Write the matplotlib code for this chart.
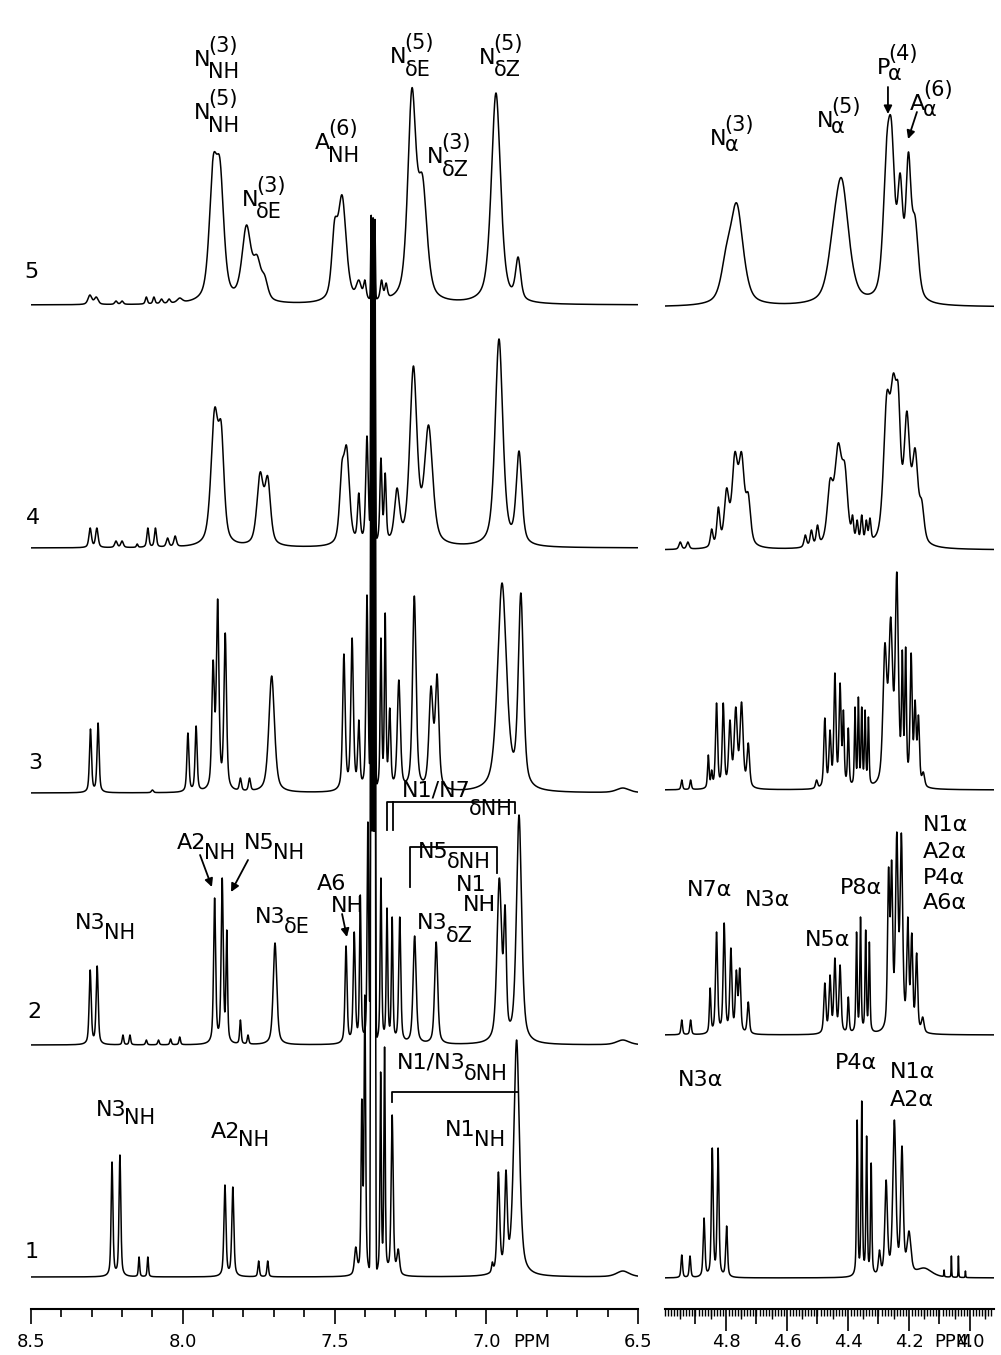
import numpy as np
import matplotlib
matplotlib.use("Agg")
import matplotlib.pyplot as plt
from matplotlib.ticker import MultipleLocator, FixedLocator, FormatStrFormatter, NullFormatter

plt.rcParams['font.family'] = ['DejaVu Sans']

# height of each trace's baseline above the ppm axis (spectra 1..5)
left_base = [32, 264, 516, 761, 1004]
right_base = [31, 274, 519, 759, 1002]

# peaks: (ppm, height, width at half height in ppm)
left_1 = [(8.233, 115, .007), (8.207, 122, .007), (8.144, 20, .005), (8.115, 20, .005),
          (7.861, 92, .008), (7.835, 90, .008), (7.75, 16, .006), (7.72, 16, .006),
          (7.43, 30, .01), (7.41, 178, .006), (7.40, 282, .006), (7.348, 205, .005),
          (7.335, 230, .005), (7.31, 162, .008), (7.29, 28, .01), (6.98, 15, .006),
          (6.96, 105, .01), (6.935, 107, .01), (6.90, 237, .022), (6.55, 6, .05)]
left_2 = [(8.305, 75, .008), (8.282, 79, .008), (8.197, 10, .006), (8.174, 10, .006),
          (8.12, 5, .006), (8.08, 5, .006), (8.04, 6, .006), (8.01, 8, .006),
          (7.895, 147, .008), (7.87, 167, .008), (7.855, 115, .006), (7.81, 25, .006),
          (7.785, 10, .006), (7.696, 102, .014), (7.462, 99, .008), (7.435, 113, .008),
          (7.415, 150, .006), (7.39, 223, .006), (7.347, 167, .006), (7.327, 137, .006),
          (7.31, 128, .006), (7.285, 128, .008), (7.236, 109, .012), (7.165, 103, .012),
          (6.957, 167, .018), (6.938, 140, .01), (6.892, 230, .02), (6.55, 5, .05)]
left_3 = [(8.304, 64, .008), (8.279, 70, .008), (8.10, 3, .008), (7.983, 60, .008),
          (7.956, 67, .008), (7.90, 133, .01), (7.885, 194, .01), (7.86, 160, .01),
          (7.81, 15, .008), (7.78, 15, .008), (7.707, 117, .022), (7.469, 139, .01),
          (7.442, 155, .01), (7.42, 73, .008), (7.393, 198, .008), (7.347, 155, .006),
          (7.333, 180, .006), (7.318, 85, .008), (7.288, 113, .012), (7.237, 197, .014),
          (7.182, 107, .016), (7.162, 119, .014), (6.948, 210, .035), (6.886, 200, .02),
          (6.55, 5, .05)]
left_4 = [(8.305, 20, .01), (8.283, 20, .01), (8.22, 7, .01), (8.20, 7, .01),
          (8.15, 4, .006), (8.115, 20, .008), (8.09, 20, .008), (8.05, 10, .01),
          (8.025, 12, .01), (7.895, 140, .028), (7.873, 125, .022), (7.745, 76, .025),
          (7.72, 72, .022), (7.476, 85, .018), (7.46, 102, .022), (7.42, 55, .01),
          (7.393, 112, .01), (7.347, 90, .008), (7.333, 75, .008), (7.294, 60, .02),
          (7.24, 182, .028), (7.19, 123, .032), (6.958, 209, .03), (6.892, 97, .022)]
left_5 = [(8.306, 10, .015), (8.285, 8, .015), (8.22, 4, .01), (8.20, 4, .01),
          (8.12, 8, .008), (8.095, 8, .008), (8.07, 6, .01), (8.045, 6, .01),
          (8.01, 7, .02), (7.90, 148, .03), (7.877, 145, .03), (7.79, 80, .035),
          (7.755, 50, .03), (7.73, 30, .025), (7.50, 85, .022), (7.475, 110, .032),
          (7.42, 25, .02), (7.40, 25, .01), (7.345, 25, .01), (7.33, 22, .01),
          (7.245, 217, .032), (7.21, 130, .035), (6.968, 212, .036), (6.895, 48, .02)]

right_1 = [(4.945, 23, .006), (4.918, 22, .006), (4.872, 60, .007), (4.845, 130, .007),
           (4.826, 130, .007), (4.798, 52, .007), (4.37, 158, .005), (4.355, 177, .005),
           (4.339, 142, .005), (4.324, 115, .005), (4.297, 28, .008), (4.275, 98, .01),
           (4.248, 158, .012), (4.223, 132, .01), (4.2, 47, .015), (4.15, 10, .06),
           (4.085, 8, .002), (4.061, 22, .002), (4.038, 22, .002), (4.015, 7, .002)]
right_2 = [(4.945, 15, .006), (4.916, 15, .006), (4.852, 47, .006), (4.831, 103, .008),
           (4.806, 112, .008), (4.784, 87, .008), (4.766, 65, .008), (4.755, 67, .008),
           (4.727, 33, .008), (4.476, 52, .008), (4.459, 60, .008), (4.443, 77, .008),
           (4.426, 70, .008), (4.399, 38, .006), (4.372, 103, .005), (4.359, 118, .005),
           (4.342, 105, .005), (4.33, 93, .005), (4.267, 168, .008), (4.257, 175, .008),
           (4.24, 203, .01), (4.225, 202, .01), (4.204, 118, .008), (4.191, 102, .008),
           (4.175, 82, .008), (4.155, 18, .01)]
right_3 = [(4.945, 10, .006), (4.916, 10, .006), (4.858, 35, .006), (4.847, 20, .006),
           (4.831, 87, .008), (4.809, 87, .008), (4.787, 70, .01), (4.768, 83, .012),
           (4.749, 88, .012), (4.727, 47, .01), (4.503, 10, .008), (4.476, 72, .008),
           (4.459, 60, .008), (4.443, 117, .008), (4.426, 107, .008), (4.415, 80, .006),
           (4.399, 62, .006), (4.377, 83, .005), (4.366, 93, .005), (4.355, 83, .005),
           (4.344, 80, .005), (4.333, 73, .005), (4.279, 147, .015), (4.26, 173, .015),
           (4.24, 218, .012), (4.222, 140, .006), (4.211, 143, .006), (4.193, 137, .008),
           (4.18, 90, .008), (4.169, 75, .008), (4.153, 18, .01)]
right_4 = [(4.95, 8, .01), (4.925, 8, .01), (4.847, 21, .01), (4.825, 43, .012),
           (4.798, 62, .018), (4.771, 98, .022), (4.749, 98, .022), (4.727, 57, .018),
           (4.54, 15, .01), (4.52, 20, .01), (4.50, 25, .01), (4.459, 71, .022),
           (4.432, 107, .028), (4.41, 86, .022), (4.385, 35, .008), (4.37, 30, .008),
           (4.355, 35, .008), (4.34, 30, .008), (4.328, 32, .008), (4.273, 157, .025),
           (4.251, 177, .025), (4.235, 164, .018), (4.207, 139, .022), (4.18, 102, .022),
           (4.158, 50, .018)]
right_5 = [(4.80, 60, .04), (4.765, 104, .05), (4.45, 82, .045), (4.421, 129, .055),
           (4.273, 170, .028), (4.257, 184, .025), (4.229, 134, .02), (4.202, 155, .02),
           (4.18, 91, .025)]

# very tall solvent lines near 7.37 ppm, which run through every trace
solvent_ppm = [7.379, 7.373, 7.367]
solvent_top = 1081


def line_shape(x, x0, fw, eta=0.55):
    d = 2 * (x - x0) / fw
    return eta / (1 + d * d) + (1 - eta) * np.exp(-np.log(2) * d * d)


def spectrum(x, peaks):
    pos = np.array([p[0] for p in peaks])
    hgt = np.array([p[1] for p in peaks], float)
    fw = np.array([p[2] for p in peaks])
    # amplitudes chosen so that the summed trace has the read heights at the peak tops
    m = line_shape(pos[:, None], pos[None, :], fw[None, :])
    amp = np.clip(np.linalg.lstsq(m, hgt, rcond=None)[0], 0, None)
    return (amp[None, :] * line_shape(x[:, None], pos[None, :], fw[None, :])).sum(axis=1)


fig = plt.figure(figsize=(10.01, 13.55), dpi=100)
axL = fig.add_axes([31 / 1001, 46 / 1355, 607 / 1001, 1309 / 1355])
axR = fig.add_axes([665 / 1001, 46 / 1355, 329 / 1001, 1309 / 1355])

xl = np.arange(8.5, 6.5, -0.0005)
xr = np.arange(5.0, 3.92, -0.0005)

for peaks, base in zip([left_1, left_2, left_3, left_4, left_5], left_base):
    y = spectrum(xl, peaks)
    for s in solvent_ppm:
        y = y + (solvent_top - base) * np.exp(-np.log(2) * (2 * (xl - s) / 0.004) ** 2)
    axL.plot(xl, base + y, color='k', lw=1.1)

for peaks, base in zip([right_1, right_2, right_3, right_4, right_5], right_base):
    axR.plot(xr, base + spectrum(xr, peaks), color='k', lw=1.1)

for ax in (axL, axR):
    ax.set_ylim(0, 1309)
    ax.patch.set_alpha(0)
    for side in ('top', 'left', 'right'):
        ax.spines[side].set_visible(False)
    ax.spines['bottom'].set_linewidth(1.5)
    ax.set_yticks([])

axL.set_xlim(8.5, 6.5)
axL.xaxis.set_major_locator(MultipleLocator(0.5))
axL.xaxis.set_minor_locator(MultipleLocator(0.1))
axL.xaxis.set_major_formatter(FormatStrFormatter('%.1f'))
axL.tick_params(axis='x', which='major', direction='out', length=11, width=1.2,
                labelsize=13, pad=6)
axL.tick_params(axis='x', which='minor', direction='out', length=6, width=1.2)
axL.text(6.849, -33, 'PPM', fontsize=13, ha='center', va='center', clip_on=False)

axR.set_xlim(5.0, 5.0 - 329 / 305)
axR.xaxis.set_major_locator(FixedLocator([4.8, 4.6, 4.4, 4.2, 4.0]))
axR.xaxis.set_minor_locator(MultipleLocator(0.01))
axR.xaxis.set_major_formatter(FormatStrFormatter('%.1f'))
axR.tick_params(axis='x', which='major', direction='out', length=16, width=1.2,
                labelsize=13, pad=1)
axR.tick_params(axis='x', which='minor', direction='out', length=5, width=1.0)
sec = axR.secondary_xaxis('bottom')
sec.spines['bottom'].set_visible(False)
sec.xaxis.set_major_locator(FixedLocator([4.9, 4.7, 4.5, 4.3, 4.1]))
sec.xaxis.set_minor_locator(FixedLocator([4.95, 4.85, 4.75, 4.65, 4.55, 4.45,
                                          4.35, 4.25, 4.15, 4.05, 3.95]))
sec.xaxis.set_major_formatter(NullFormatter())
sec.tick_params(axis='x', which='major', direction='out', length=11, width=1.2)
sec.tick_params(axis='x', which='minor', direction='out', length=7.5, width=1.0)
# "PPM" sits over the 4.0 label, as on the original plotter output
axR.text(4.056, -33, 'PPM', fontsize=13, ha='center', va='center', clip_on=False)

FS = 16


def label(ax, x, y, main, sup=None, sub=None, sup_dy=10, sub_dy=-9, size=FS, sub_size=15):
    t = ax.text(x, y, main, fontsize=size, ha='left', va='center', clip_on=False)
    if sup:
        ax.annotate(sup, xy=(1, 0.5), xycoords=t, xytext=(-1.5, sup_dy),
                    textcoords='offset points', fontsize=sub_size, ha='left', va='center')
    if sub:
        ax.annotate(sub, xy=(1, 0.5), xycoords=t, xytext=(-1.5, sub_dy),
                    textcoords='offset points', fontsize=sub_size, ha='left', va='center')
    return t


def arrow(ax, x0, y0, x1, y1):
    ax.annotate('', xy=(x1, y1), xytext=(x0, y0),
                arrowprops=dict(arrowstyle='-|>', color='k', lw=1.3, mutation_scale=12,
                                shrinkA=0, shrinkB=0))


# trace numbers
for i, (ppm, yv) in enumerate([(8.497, 57), (8.49, 297), (8.487, 546), (8.493, 791), (8.5, 1037)]):
    axL.text(ppm, yv, str(i + 1), fontsize=FS, ha='center', va='center', clip_on=False)

# spectrum 5
label(axL, 7.963, 1249, 'N', '(3)', 'NH')
label(axL, 7.963, 1196, 'N', '(5)', 'NH')
label(axL, 7.805, 1109, 'N', '(3)', 'δE')
label(axL, 7.564, 1166, 'A', '(6)', 'NH')
label(axL, 7.317, 1252, 'N', '(5)', 'δE')
label(axL, 7.195, 1152, 'N', '(3)', 'δZ')
label(axL, 7.024, 1251, 'N', '(5)', 'δZ')
label(axR, 4.852, 1170, 'N', '(3)', 'α', sub_dy=-4)
label(axR, 4.502, 1188, 'N', '(5)', 'α', sub_dy=-4)
label(axR, 4.305, 1241, 'P', '(4)', 'α', sub_dy=-4)
label(axR, 4.197, 1205, 'A', '(6)', 'α', sub_dy=-4)
arrow(axR, 4.269, 1222, 4.269, 1195)
arrow(axR, 4.174, 1197, 4.203, 1170)

# spectrum 2
label(axL, 8.355, 386, 'N3', sub='NH', sub_dy=-7)
label(axL, 8.019, 466, 'A2', sub='NH', sub_dy=-7)
label(axL, 7.798, 466, 'N5', sub='NH', sub_dy=-7)
label(axL, 7.762, 392, 'N3', sub='δE', sub_dy=-7)
label(axL, 7.558, 425, 'A6')
label(axL, 7.512, 403, 'NH')
label(axL, 7.278, 518, 'N1/N7', sub='δNH', sub_dy=-13)
label(axL, 7.225, 457, 'N5', sub='δNH', sub_dy=-7)
label(axL, 7.100, 424, 'N1')
label(axL, 7.077, 404, 'NH')
label(axL, 7.228, 386, 'N3', sub='δZ', sub_dy=-9)
arrow(axL, 7.943, 454, 7.904, 422)
arrow(axL, 7.785, 449, 7.841, 417)
arrow(axL, 7.475, 395, 7.459, 372)
axL.plot([7.327, 7.327, 6.905, 6.905], [479, 507, 507, 496], color='k', lw=1.3)
axL.plot([7.307, 7.307], [479, 507], color='k', lw=1.3)
axL.plot([7.251, 7.251, 6.965, 6.965], [422, 462, 462, 436], color='k', lw=1.3)
axR.text(4.928, 419, 'N7α', fontsize=FS, ha='left', va='center')
axR.text(4.738, 409, 'N3α', fontsize=FS, ha='left', va='center')
axR.text(4.541, 369, 'N5α', fontsize=FS, ha='left', va='center')
axR.text(4.426, 421, 'P8α', fontsize=FS, ha='left', va='center')
for txt, yv in zip(['N1α', 'A2α', 'P4α', 'A6α'], [484, 457, 431, 406]):
    axR.text(4.154, yv, txt, fontsize=FS, ha='left', va='center')

# spectrum 1
label(axL, 8.286, 199, 'N3', sub='NH', sub_dy=-6)
label(axL, 7.907, 177, 'A2', sub='NH', sub_dy=-6)
label(axL, 7.295, 247, 'N1/N3', sub='δNH', sub_dy=-9)
label(axL, 7.136, 179, 'N1', sub='NH', sub_dy=-7)
axL.plot([7.311, 7.311, 6.895], [207, 217, 217], color='k', lw=1.3)
axR.text(4.957, 229, 'N3α', fontsize=FS, ha='left', va='center')
axR.text(4.443, 246, 'P4α', fontsize=FS, ha='left', va='center')
axR.text(4.262, 237, 'N1α', fontsize=FS, ha='left', va='center')
axR.text(4.262, 209, 'A2α', fontsize=FS, ha='left', va='center')

fig.savefig('out.png', dpi=100)
